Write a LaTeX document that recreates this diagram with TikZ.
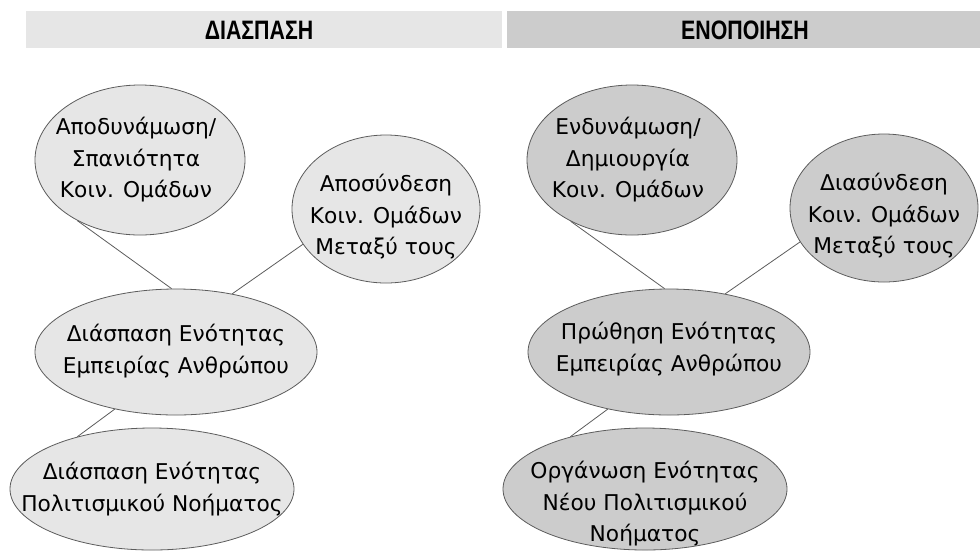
\documentclass[tikz,border=0pt]{standalone}
\usepackage{fontspec}
\setmainfont{DejaVu Sans}
\newfontfamily\headfont[FakeStretch=0.8]{Liberation Sans}
\usetikzlibrary{shapes.geometric}
\definecolor{lightfill}{HTML}{E6E6E6}
\definecolor{darkfill}{HTML}{CCCCCC}
\definecolor{rimgray}{HTML}{5C5C5C}

\begin{document}
\begin{tikzpicture}[x=0.75pt, y=-0.75pt,
	bubble/.style={ellipse, draw=rimgray, line width=0.6pt, inner sep=0pt},
	bsize/.style 2 args={minimum width=#1*0.75pt, minimum height=#2*0.75pt},
	btext/.style={align=center, font=\fontsize{16.3}{23.6}\selectfont},
	head/.style={font=\headfont\bfseries\fontsize{20}{24}\selectfont}]
	\useasboundingbox (0,0) rectangle (980,551);
	% header bars
	\fill[lightfill] (26,11) rectangle (502,48);
	\fill[darkfill] (507,11) rectangle (980,48);
	\node[head] (h1) at (259,30) {ΔΙΑΣΠΑΣΗ};
	\node[head] (h2) at (745,30) {ΕΝΟΠΟΙΗΣΗ};
	% left
	\node[bubble, fill=lightfill, bsize={210}{150}] (a1) at (140,160) {};
	\node[bubble, fill=lightfill, bsize={188}{148}] (a2) at (386,209) {};
	\node[bubble, fill=lightfill, bsize={282}{126}] (a3) at (176,352) {};
	\node[bubble, fill=lightfill, bsize={284}{122}] (a4) at (152,489) {};
	\node[btext] (a1t) at (136,160) {Αποδυνάμωση/\\Σπανιότητα\\Κοιν. Ομάδων};
	\node[btext] (a2t) at (386,217) {Αποσύνδεση\\Κοιν. Ομάδων\\Μεταξύ τους};
	\node[btext] (a3t) at (176,351) {Διάσπαση Ενότητας\\Εμπειρίας Ανθρώπου};
	\node[btext] (a4t) at (152,489) {Διάσπαση Ενότητας\\Πολιτισμικού Νοήματος};
	% right
	\node[bubble, fill=darkfill, bsize={210}{150}] (b1) at (632,160) {};
	\node[bubble, fill=darkfill, bsize={188}{148}] (b2) at (884,208) {};
	\node[bubble, fill=darkfill, bsize={282}{126}] (b3) at (669,352) {};
	\node[bubble, fill=darkfill, bsize={284}{122}] (b4) at (645,489) {};
	\node[btext] (b1t) at (628,160) {Ενδυνάμωση/\\Δημιουργία\\Κοιν. Ομάδων};
	\node[btext] (b2t) at (884,216) {Διασύνδεση\\Κοιν. Ομάδων\\Μεταξύ τους};
	\node[btext] (b3t) at (669,349) {Πρώθηση Ενότητας\\Εμπειρίας Ανθρώπου};
	\node[btext] (b4t) at (645,504) {Οργάνωση Ενότητας\\Νέου Πολιτισμικού\\Νοήματος};
	\foreach \from/\to in {
		a1.224/a3.94, a2.203/a3.46, a3.223/a4.145,
		b1.225/b3.94, b2.202/b3.46, b3.223/b4.145}
	\draw[rimgray, line width=0.6pt] (\from) -- (\to);
\end{tikzpicture}
\end{document}
